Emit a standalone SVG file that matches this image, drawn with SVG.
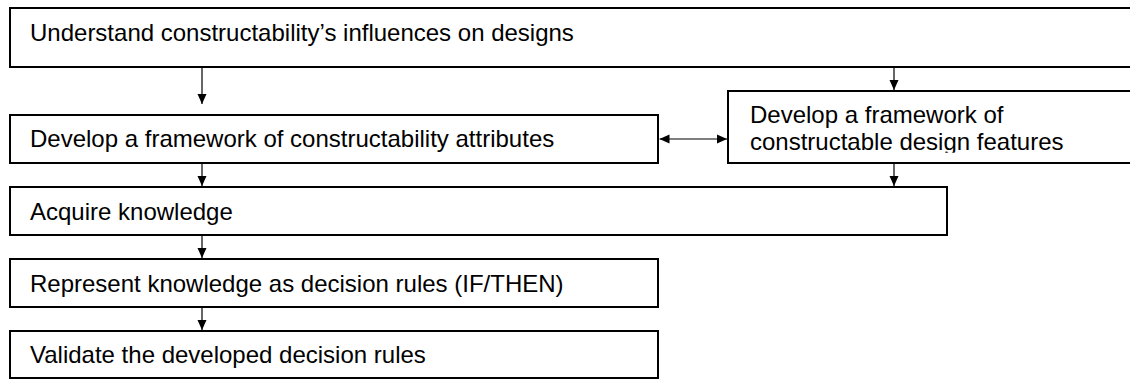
<svg xmlns="http://www.w3.org/2000/svg" width="1130" height="379" viewBox="0 0 1130 379">
<style>
.box{fill:#fff;stroke:#000;stroke-width:2}
.lbl{font-family:"Liberation Sans",Arial,sans-serif;font-size:24px;fill:#000}
.con{stroke:#000;stroke-width:1.2;fill:none}
</style>
<defs>
<marker id="ah" markerUnits="userSpaceOnUse" markerWidth="10" markerHeight="10" refX="10" refY="5" orient="auto-start-reverse" viewBox="0 0 10 10">
<path d="M0,0.5 L10,5 L0,9.5 z" fill="#000"/>
</marker>
<clipPath id="clip3"><rect x="729" y="92" width="402" height="60.7"/></clipPath>
</defs>
<rect width="1130" height="379" fill="#fff"/>
<g id="connectors">
<line class="con" x1="202" y1="68" x2="202" y2="104" marker-end="url(#ah)"/>
<line class="con" x1="894" y1="68" x2="894" y2="90" marker-end="url(#ah)"/>
<line class="con" x1="202" y1="164" x2="202" y2="186" marker-end="url(#ah)"/>
<line class="con" x1="894" y1="164" x2="894" y2="186" marker-end="url(#ah)"/>
<line class="con" x1="659.5" y1="139" x2="727" y2="139" marker-start="url(#ah)" marker-end="url(#ah)"/>
<line class="con" x1="202" y1="236" x2="202" y2="258" stroke-width="2" marker-end="url(#ah)"/>
<line class="con" x1="202" y1="308" x2="202" y2="330" marker-end="url(#ah)"/>
</g>
<g id="n1">
<rect class="box" x="10" y="8" width="1140" height="59"/>
<text class="lbl" x="30" y="41">Understand constructability’s influences on designs</text>
</g>
<g id="n2">
<rect class="box" x="10" y="115" width="648" height="48"/>
<text class="lbl" x="30" y="147">Develop a framework of constructability attributes</text>
</g>
<g id="n3">
<rect class="box" x="728" y="91" width="420" height="72"/>
<g clip-path="url(#clip3)">
<text class="lbl" x="750" y="123">Develop a framework of</text>
<text class="lbl" x="750" y="150">constructable design features</text>
</g>
</g>
<g id="n4">
<rect class="box" x="10" y="187" width="937" height="48"/>
<text class="lbl" x="30" y="219.5">Acquire knowledge</text>
</g>
<g id="n5">
<rect class="box" x="10" y="259" width="648" height="48"/>
<text class="lbl" x="30" y="291.5">Represent knowledge as decision rules (IF/THEN)</text>
</g>
<g id="n6">
<rect class="box" x="10" y="331" width="648" height="47"/>
<text class="lbl" x="30" y="363">Validate the developed decision rules</text>
</g>
</svg>
